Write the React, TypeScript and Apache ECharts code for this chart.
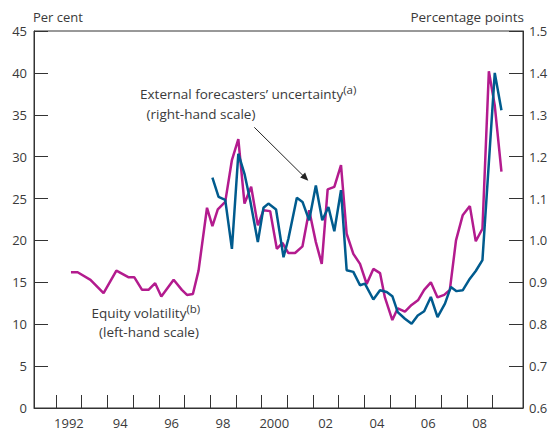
import React, { useEffect, useRef } from "react";
import * as echarts from "echarts";

// Equity volatility (left-hand scale, per cent)
const equityDates = [1992.58, 1992.84, 1993.34, 1993.85, 1994.35, 1994.83, 1995.05, 1995.35, 1995.6, 1995.86, 1996.1, 1996.58, 1996.9, 1997.1, 1997.33, 1997.55, 1997.88, 1998.09, 1998.3, 1998.59, 1998.85, 1999.1, 1999.34, 1999.6, 1999.86, 2000.08, 2000.34, 2000.6, 2000.82, 2001.05, 2001.31, 2001.6, 2001.86, 2002.12, 2002.35, 2002.58, 2002.84, 2003.1, 2003.32, 2003.58, 2003.84, 2004.1, 2004.36, 2004.62, 2004.81, 2005.1, 2005.31, 2005.59, 2005.85, 2006.11, 2006.34, 2006.6, 2006.86, 2007.12, 2007.34, 2007.58, 2007.84, 2008.12, 2008.35, 2008.61, 2008.86, 2009.09, 2009.35];
const equityVol = [16.2, 16.2, 15.3, 13.7, 16.4, 15.6, 15.6, 14.1, 14.1, 14.9, 13.3, 15.3, 14.1, 13.5, 13.6, 16.4, 23.9, 21.7, 23.7, 24.6, 29.6, 32.1, 24.4, 26.4, 21.8, 23.6, 23.5, 19.0, 19.7, 18.5, 18.5, 19.3, 23.6, 19.8, 17.2, 26.1, 26.4, 29.0, 20.8, 18.4, 17.2, 14.8, 16.6, 16.1, 13.2, 10.5, 11.9, 11.5, 12.3, 12.9, 14.1, 15.0, 13.2, 13.5, 14.1, 20.0, 23.0, 24.1, 19.9, 21.4, 40.2, 36.1, 28.2];

// External forecasters' uncertainty (right-hand scale, percentage points)
const forecastDates = [1998.09, 1998.33, 1998.59, 1998.85, 1999.1, 1999.34, 1999.56, 1999.86, 2000.08, 2000.27, 2000.57, 2000.86, 2001.05, 2001.38, 2001.6, 2001.86, 2002.12, 2002.37, 2002.61, 2002.84, 2003.1, 2003.32, 2003.58, 2003.84, 2004.03, 2004.36, 2004.62, 2004.88, 2005.1, 2005.31, 2005.59, 2005.85, 2006.09, 2006.34, 2006.6, 2006.86, 2007.15, 2007.38, 2007.6, 2007.84, 2008.09, 2008.35, 2008.61, 2009.09, 2009.35];
const forecastUnc = [1.15, 1.104, 1.097, 0.98, 1.207, 1.159, 1.096, 0.996, 1.078, 1.088, 1.074, 0.96, 1.004, 1.102, 1.092, 1.048, 1.131, 1.048, 1.08, 1.022, 1.12, 0.929, 0.925, 0.893, 0.897, 0.859, 0.881, 0.877, 0.867, 0.829, 0.813, 0.801, 0.821, 0.831, 0.865, 0.817, 0.849, 0.889, 0.879, 0.881, 0.906, 0.927, 0.953, 1.4, 1.311];

// Axis ticks and labels
const tickYears = [1992, 1993, 1994, 1995, 1996, 1997, 1998, 1999, 2000, 2001, 2002, 2003, 2004, 2005, 2006, 2007, 2008, 2009];
const labelYears = [1992, 1994, 1996, 1998, 2000, 2002, 2004, 2006, 2008];
const xLabels = ["1992", "94", "96", "98", "2000", "02", "04", "06", "08"];

const MAGENTA = "#b31b8e";
const BLUE = "#005b8e";
const TEXT = "#3a3a3a";
const AXIS = "#333333";
const FONT = "Open Sans";

export default function App() {
  const ref = useRef<HTMLDivElement>(null);

  useEffect(() => {
    document.body.style.margin = "0";
    const chart = echarts.init(ref.current!, null, { renderer: "svg" });

    const equityData = equityDates.map((d, i) => [d, equityVol[i]]);
    const forecastData = forecastDates.map((d, i) => [d, forecastUnc[i]]);

    const option: any = {
      animation: false,
      backgroundColor: "#ffffff",
      textStyle: { fontFamily: FONT },
      grid: {
        left: 34,
        right: 31,
        top: 31,
        bottom: 22,
        show: true,
        borderColor: AXIS,
        borderWidth: 1,
        backgroundColor: "transparent",
      },
      xAxis: {
        type: "value",
        min: 1991.14,
        max: 2010.19,
        splitLine: { show: false },
        axisLine: { show: true, lineStyle: { color: AXIS, width: 1 } },
        axisTick: {
          show: true,
          inside: true,
          length: 13,
          customValues: tickYears,
          lineStyle: { color: AXIS, width: 1 },
        },
        axisLabel: {
          customValues: labelYears.map((y) => y + 0.5),
          formatter: (v: number) => {
            const idx = labelYears.indexOf(Math.floor(v));
            return idx >= 0 ? xLabels[idx] : "";
          },
          color: TEXT,
          fontSize: 13,
          fontFamily: FONT,
          margin: 8,
        },
      },
      yAxis: [
        {
          type: "value",
          min: 0,
          max: 45,
          interval: 5,
          position: "left",
          splitLine: { show: false },
          axisLine: { show: true, lineStyle: { color: AXIS, width: 1 } },
          axisTick: { show: true, inside: true, length: 14, lineStyle: { color: AXIS, width: 1 } },
          axisLabel: { color: TEXT, fontSize: 13, fontFamily: FONT, margin: 7 },
        },
        {
          type: "value",
          min: 0.6,
          max: 1.5,
          interval: 0.1,
          position: "right",
          splitLine: { show: false },
          axisLine: { show: true, lineStyle: { color: AXIS, width: 1 } },
          axisTick: { show: true, inside: true, length: 14, lineStyle: { color: AXIS, width: 1 } },
          axisLabel: {
            color: TEXT,
            fontSize: 13,
            fontFamily: FONT,
            margin: 6,
            formatter: (v: number) => v.toFixed(1),
          },
        },
      ],
      series: [
        {
          name: "Equity volatility",
          type: "line",
          yAxisIndex: 0,
          data: equityData,
          showSymbol: false,
          symbol: "none",
          lineStyle: { color: MAGENTA, width: 2.5 },
          z: 2,
        },
        {
          name: "External forecasters' uncertainty",
          type: "line",
          yAxisIndex: 1,
          data: forecastData,
          showSymbol: false,
          symbol: "none",
          lineStyle: { color: BLUE, width: 2.5 },
          z: 3,
        },
      ],
      graphic: [
        {
          type: "text",
          left: 33,
          top: 10,
          style: { text: "Per cent", fill: TEXT, font: `13px "${FONT}"` },
        },
        {
          type: "text",
          right: 30,
          top: 10,
          style: { text: "Percentage points", fill: TEXT, font: `13.5px "${FONT}"` },
        },
        {
          type: "text",
          x: 140,
          y: 94,
          style: {
            text: "{m|External forecasters’ uncertainty}{s|(a)}",
            verticalAlign: "middle",
            rich: {
              m: { fontSize: 13.5, fontFamily: FONT, fill: TEXT, lineHeight: 22 },
              s: { fontSize: 11.5, fontFamily: FONT, fill: TEXT, lineHeight: 10, verticalAlign: "top" },
            },
          },
        },
        {
          type: "text",
          x: 146.5,
          y: 113.5,
          style: { text: "(right-hand scale)", fill: TEXT, font: `13.5px "${FONT}"`, verticalAlign: "middle" },
        },
        {
          type: "text",
          x: 91.5,
          y: 313,
          style: {
            text: "{m|Equity volatility}{s|(b)}",
            verticalAlign: "middle",
            rich: {
              m: { fontSize: 13.5, fontFamily: FONT, fill: TEXT, lineHeight: 22 },
              s: { fontSize: 11.5, fontFamily: FONT, fill: TEXT, lineHeight: 10, verticalAlign: "top" },
            },
          },
        },
        {
          type: "text",
          x: 99,
          y: 332,
          style: { text: "(left-hand scale)", fill: TEXT, font: `13.5px "${FONT}"`, verticalAlign: "middle" },
        },
        {
          type: "line",
          shape: { x1: 254.3, y1: 127.3, x2: 304, y2: 176.5 },
          style: { stroke: "#222", lineWidth: 1 },
          z: 10,
        },
        {
          type: "polygon",
          shape: { points: [[308.3, 180.7], [300.1, 177.6], [305.1, 172.6]] },
          style: { fill: "#222" },
          z: 10,
        },
      ],
    };

    chart.setOption(option);
    return () => chart.dispose();
  }, []);

  return <div ref={ref} style={{ width: 554, height: 430 }} />;
}
